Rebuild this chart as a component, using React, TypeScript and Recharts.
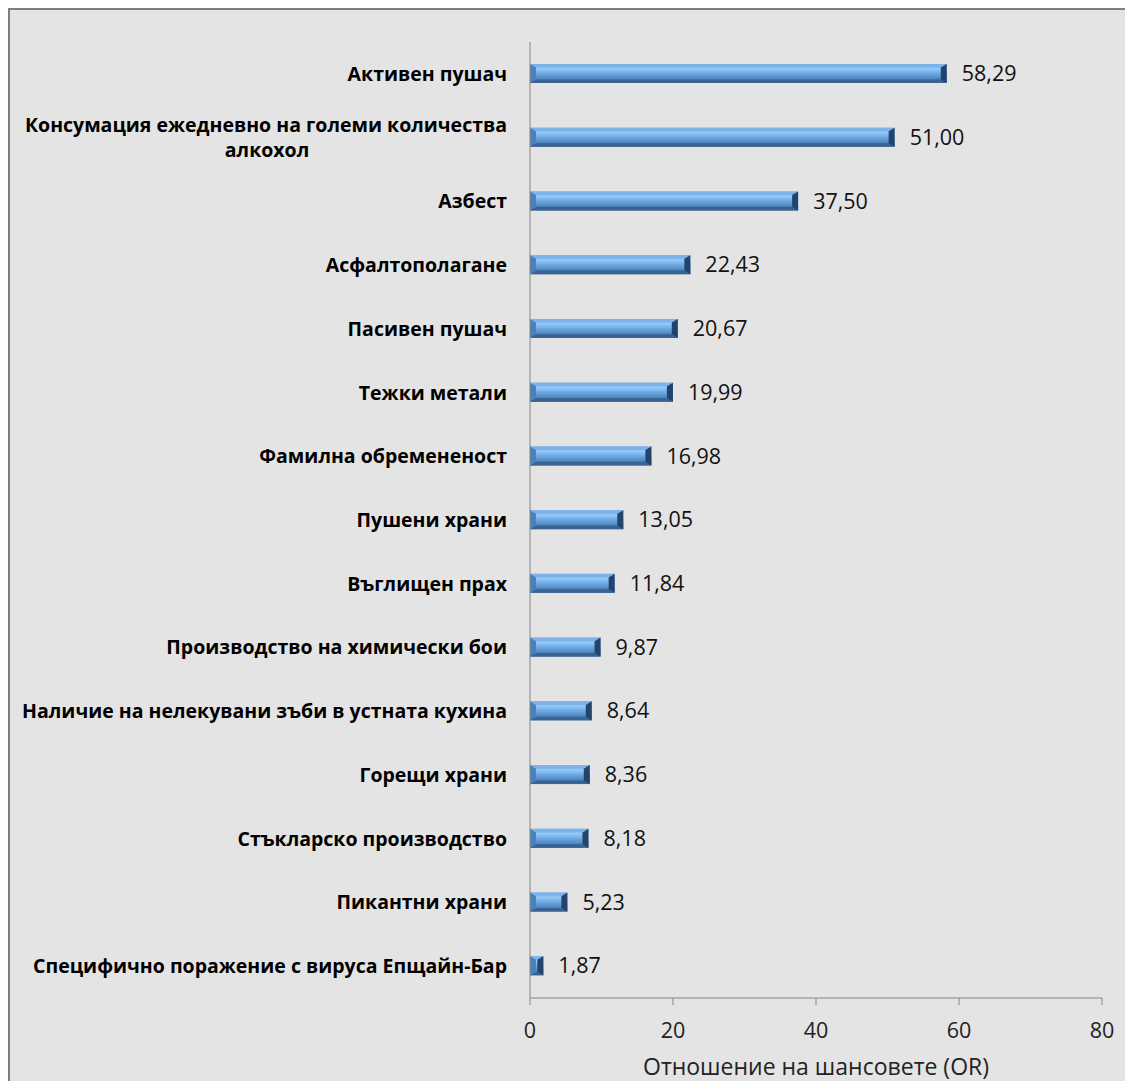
import React from "react";
import { BarChart, Bar, XAxis, YAxis, LabelList } from "recharts";

const categories = [
  "Активен пушач",
  "Консумация ежедневно на големи количества\nалкохол",
  "Азбест",
  "Асфалтополагане",
  "Пасивен пушач",
  "Тежки метали",
  "Фамилна обремененост",
  "Пушени храни",
  "Въглищен прах",
  "Производство на химически бои",
  "Наличие на нелекувани зъби в устната кухина",
  "Горещи храни",
  "Стъкларско производство",
  "Пикантни храни",
  "Специфично поражение с вируса Епщайн-Бар",
];
const values = [58.29, 51.0, 37.5, 22.43, 20.67, 19.99, 16.98, 13.05, 11.84, 9.87, 8.64, 8.36, 8.18, 5.23, 1.87];
const xTicks = [0, 20, 40, 60, 80];
const xTitle = "Отношение на шансовете (OR)";

const data = categories.map((c, i) => ({ name: c, value: values[i] }));

const FONT = "'Open Sans', sans-serif";
const LFS = 19.5;

const YTick = (props: any) => {
  const { x, y, payload } = props;
  const lines = String(payload.value).split("\n");
  if (lines.length === 1) {
    return (
      <text x={x} y={y} dy={7} textAnchor="end" fontFamily={FONT} fontWeight={700} fontSize={LFS} fill="#000">
        {lines[0]}
      </text>
    );
  }
  return (
    <g>
      <text x={x} y={y} dy={-6} textAnchor="end" fontFamily={FONT} fontWeight={700} fontSize={LFS} fill="#000">
        {lines[0]}
      </text>
      <text x={257} y={y} dy={19} textAnchor="middle" fontFamily={FONT} fontWeight={700} fontSize={LFS} fill="#000">
        {lines[1]}
      </text>
    </g>
  );
};

const BevelBar = (props: any) => {
  const { x, y, width, height } = props;
  if (!width || width <= 0) return null;
  const b = Math.min(6, width / 2, height / 3);
  const x2 = x + width;
  const y2 = y + height;
  return (
    <g>
      <rect x={x} y={y} width={width} height={height} fill="url(#barFace)" />
      <polygon points={`${x},${y} ${x2},${y} ${x2 - b},${y + b * 0.6} ${x + b},${y + b * 0.6}`} fill="#7db3e8" />
      <polygon points={`${x},${y2} ${x2},${y2} ${x2 - b},${y2 - b * 0.6} ${x + b},${y2 - b * 0.6}`} fill="#3a6391" />
      <polygon points={`${x},${y} ${x + b},${y + b * 0.6} ${x + b},${y2 - b * 0.6} ${x},${y2}`} fill="#4a80bb" />
      <polygon points={`${x2},${y} ${x2 - b},${y + b * 0.6} ${x2 - b},${y2 - b * 0.6} ${x2},${y2}`} fill="#22436b" />
    </g>
  );
};

const fmt = (v: any) => Number(v).toFixed(2).replace(".", ",");

export default function App() {
  return (
    <div
      style={{
        position: "absolute",
        left: 8,
        top: 8,
        width: 1117,
        height: 1073,
        boxSizing: "border-box",
        borderTop: "2px solid #7f7f7f",
        borderLeft: "2px solid #7f7f7f",
        background: "#e4e4e4",
        overflow: "hidden",
      }}
    >
      <BarChart
        width={1115}
        height={1071}
        data={data}
        layout="vertical"
        margin={{ top: 32, right: 23, bottom: 0, left: 0 }}
        barCategoryGap={0}
      >
        <defs>
          <linearGradient id="barFace" x1="0" y1="0" x2="0" y2="1">
            <stop offset="0" stopColor="#78b0e6" />
            <stop offset="0.25" stopColor="#93cbf7" />
            <stop offset="0.5" stopColor="#6ea9e3" />
            <stop offset="0.78" stopColor="#4f86c0" />
            <stop offset="1" stopColor="#3b6594" />
          </linearGradient>
        </defs>
        <XAxis
          type="number"
          domain={[0, 80]}
          ticks={xTicks}
          height={83}
          stroke="#868686"
          tickSize={7}
          tick={{ fontFamily: FONT, fontSize: 21.5, fill: "#222" }}
          tickMargin={18}
          label={{ value: xTitle, position: "insideBottom", offset: 6, fontFamily: FONT, fontSize: 23, fill: "#222" }}
        />
        <YAxis
          type="category"
          dataKey="name"
          width={520}
          stroke="#868686"
          tickLine={false}
          tick={<YTick />}
          tickMargin={17}
          interval={0}
        />
        <Bar dataKey="value" barSize={19} shape={<BevelBar />} isAnimationActive={false}>
          <LabelList
            dataKey="value"
            position="right"
            offset={15}
            formatter={fmt}
            style={{ fontFamily: FONT, fontSize: 21.5, fill: "#111" }}
          />
        </Bar>
      </BarChart>
    </div>
  );
}
